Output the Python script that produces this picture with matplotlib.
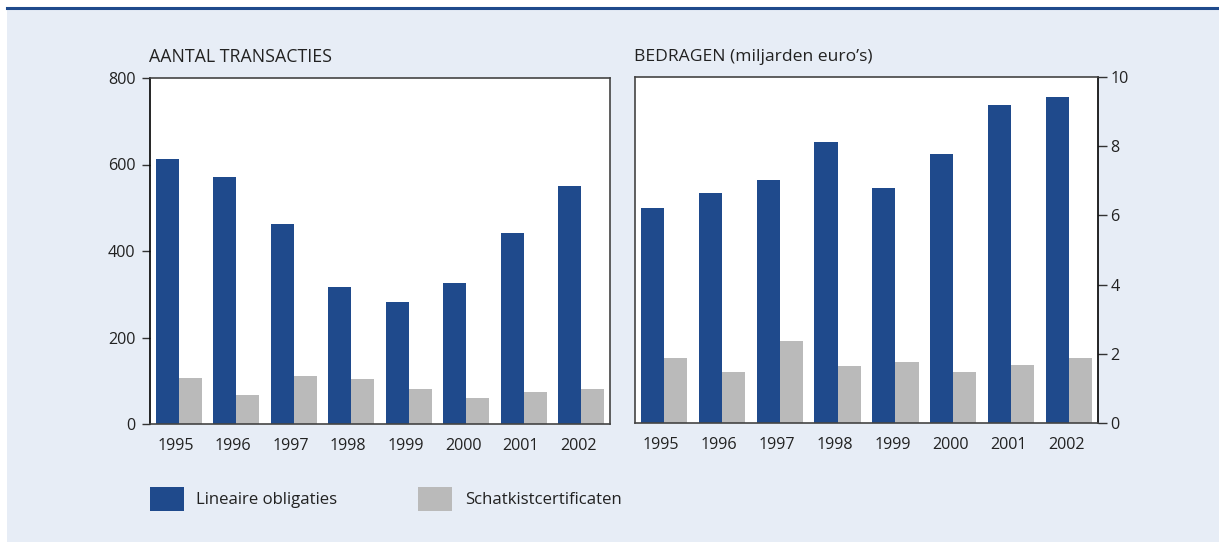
import matplotlib
matplotlib.use("Agg")
import matplotlib.pyplot as plt
import numpy as np
from matplotlib.patches import Rectangle
from matplotlib.lines import Line2D
from matplotlib.transforms import ScaledTranslation

plt.rcParams['font.family'] = ['Open Sans', 'DejaVu Sans']

years = ['1995', '1996', '1997', '1998', '1999', '2000', '2001', '2002']
transacties_lineair = [613, 571, 462, 316, 281, 325, 441, 550]
transacties_schatkist = [107, 66, 112, 105, 82, 59, 75, 80]
bedragen_lineair = [6.22, 6.65, 7.03, 8.13, 6.80, 7.78, 9.19, 9.42]
bedragen_schatkist = [1.87, 1.46, 2.38, 1.66, 1.75, 1.46, 1.69, 1.87]
series_labels = ['Lineaire obligaties', 'Schatkistcertificaten']
titles = ['AANTAL TRANSACTIES', 'BEDRAGEN (miljarden euro\u2019s)']

BLUE = '#1F4A8C'
GREY = '#BABABA'
BG = '#E7EDF6'
TXT = '#222222'

W, H = 1219, 542
fig = plt.figure(figsize=(W / 100, H / 100), dpi=100)
fig.patch.set_facecolor('white')

# background panel and top rule
fig.patches.append(Rectangle((7 / W, 0), 1 - 7 / W, (H - 8) / H, transform=fig.transFigure,
                             facecolor=BG, edgecolor='none', zorder=-10))
fig.lines.append(Line2D([7 / W, 1], [(H - 7.7) / H, (H - 7.7) / H], transform=fig.transFigure,
                        color=BLUE, lw=2.2, zorder=-5))

def px(x0, y0, x1, y1):
    return [x0 / W, (H - y1) / H, (x1 - x0) / W, (y1 - y0) / H]

ax1 = fig.add_axes(px(150, 78, 610, 424))
ax2 = fig.add_axes(px(635, 77, 1098, 423))

x = np.arange(len(years))
bw = 0.4
shift = ScaledTranslation(-3 / 100, 0, fig.dpi_scale_trans)
for ax, a, b in [(ax1, transacties_lineair, transacties_schatkist),
                 (ax2, bedragen_lineair, bedragen_schatkist)]:
    ax.set_facecolor('white')
    ax.bar(x - bw / 2, a, width=bw, color=BLUE, linewidth=0, zorder=2)
    ax.bar(x + bw / 2, b, width=bw, color=GREY, linewidth=0, zorder=2)
    ax.set_xlim(-0.5, len(years) - 0.5)
    ax.set_xticks(x)
    ax.set_xticklabels(years)
    ax.tick_params(axis='x', length=0, pad=10, labelsize=11.6, labelcolor=TXT)
    for lbl in ax.get_xticklabels():
        lbl.set_transform(lbl.get_transform() + shift)
    for s in ax.spines.values():
        s.set_color('#444444')
        s.set_linewidth(1.2)

ax1.set_ylim(0, 800)
ax1.set_yticks([0, 200, 400, 600, 800])
ax1.tick_params(axis='y', direction='out', length=5.5, width=1, pad=5, labelsize=11.6,
                labelcolor=TXT, color='#333333')
ax1.spines['left'].set_color('black')

ax2.set_ylim(0, 10)
ax2.set_yticks([0, 2, 4, 6, 8, 10])
ax2.yaxis.tick_right()
ax2.tick_params(axis='y', direction='out', length=6.5, width=1, pad=2.5, labelsize=11.6,
                labelcolor=TXT, color='#333333')
ax2.spines['right'].set_color('black')

fig.text(149 / W, (H - 62.5) / H, titles[0], fontsize=12.8, color=TXT, va='baseline', ha='left')
fig.text(634 / W, (H - 61) / H, titles[1], fontsize=12.6, color=TXT, va='baseline', ha='left')

# legend
for (lx, tx), col, lab in zip([(150, 196), (418, 465)], [BLUE, GREY], series_labels):
    fig.patches.append(Rectangle((lx / W, (H - 511) / H), 34 / W, 24 / H, transform=fig.transFigure,
                                 facecolor=col, edgecolor='none', zorder=2))
    fig.text(tx / W, (H - 500) / H, lab, fontsize=12.1, color=TXT, va='center', ha='left')

fig.savefig('out.png', dpi=100, facecolor=fig.get_facecolor())
